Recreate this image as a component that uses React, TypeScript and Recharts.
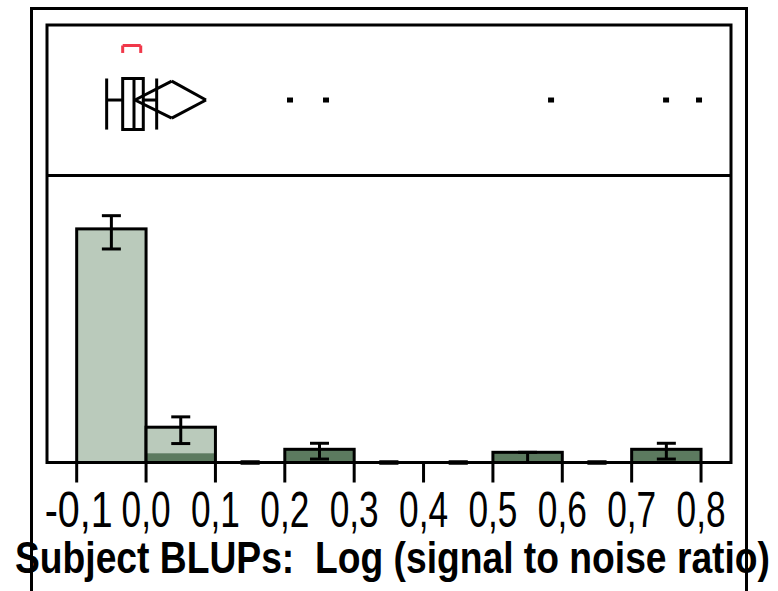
import {
  Bar,
  ComposedChart,
  ErrorBar,
  ReferenceArea,
  ReferenceLine,
  Scatter,
  XAxis,
  YAxis,
} from "recharts";

// histogram bins (width 0.1), heights in % of the lower panel
const binMids = [-0.05, 0.05, 0.15, 0.25, 0.35, 0.45, 0.55, 0.65, 0.75];
const binTotal = [81.4, 12.3, 0, 4.6, 0, 0, 3.55, 0, 4.6];
const binDark = [0, 3.2, 0, 4.6, 0, 0, 3.55, 0, 4.6];
const errLow = [7.0, 5.7, 0, 3.4, 0, 0, 3.55, 0, 3.4];
const errHigh = [4.6, 3.6, 0, 2.1, 0, 0, 0, 0, 2.1];

const tickValues = [-0.1, 0, 0.1, 0.2, 0.3, 0.4, 0.5, 0.6, 0.7, 0.8];
const tickLabels = ["-0,1", "0,0", "0,1", "0,2", "0,3", "0,4", "0,5", "0,6", "0,7", "0,8"];

// outlier box plot: low whisker, q1, median, q3, high whisker
const boxStats = [-0.0568, -0.0337, -0.0174, -0.004, 0.0153];
const meanDiamond = [-0.016, 0.037, 0.0864]; // lower CI, mean, upper CI
const shortestHalf = [-0.0337, -0.0077];
const outliers = [0.2075, 0.2594, 0.5838, 0.7496, 0.7971];

const title = "Subject BLUPs:  Log (signal to noise ratio)";

// layout
const X_MIN = -0.1428;
const X_MAX = 0.8432;
const Y_MAX = 152.44;
const PANEL_SPLIT = 100;
const BOX_MID = 126.3;
const BOX_TOP = 133.8;
const BOX_BOT = 116.0;
const DIA_TOP = 132.9;
const DIA_BOT = 120.0;
const BRACKET_TOP = 145.3;
const BRACKET_BOT = 142.7;

const LIGHT = "#bacabb";
const DARK = "#5c7a5f";
const RED = "#f0384a";
const FONT = "'Liberation Sans Narrow', 'Liberation Sans', Arial, sans-serif";

const rows = binMids.map((x, i) => ({
  x,
  total: binTotal[i],
  dark: binDark[i],
  err: [errLow[i], errHigh[i]],
}));

// empty bins still show their (zero length) error bar
const emptyBins = rows.filter((r) => r.total === 0);

const points = outliers.map((x) => ({ x, y: BOX_MID }));

function HistBar(props: any) {
  const { x, y, width, height, payload } = props;
  if (!height || height <= 0) return null;
  const dh = payload.total > 0 ? (height * payload.dark) / payload.total : 0;
  return (
    <g>
      <rect x={x} y={y} width={width} height={height} fill={LIGHT} />
      {dh > 0 && <rect x={x} y={y + height - dh} width={width} height={dh} fill={DARK} />}
      <rect x={x} y={y} width={width} height={height} fill="none" stroke="#000" strokeWidth={3} />
    </g>
  );
}

function Tick(props: any) {
  const { x, y, payload } = props;
  const i = tickValues.findIndex((v) => Math.abs(v - payload.value) < 1e-9);
  const label = tickLabels[i] ?? "";
  const wide = label.startsWith("-");
  return (
    <text
      x={x + (wide ? 2 : 0)}
      y={y + 42}
      textAnchor="middle"
      fontFamily={FONT}
      fontSize={50}
      fill="#000"
      textLength={wide ? 68 : 49}
      lengthAdjust="spacingAndGlyphs"
    >
      {label}
    </text>
  );
}

function Title() {
  return (
    <text
      x={392.5}
      y={573}
      textAnchor="middle"
      fontFamily={FONT}
      fontWeight="bold"
      fontSize={45}
      fill="#000"
      textLength={755}
      lengthAdjust="spacingAndGlyphs"
      style={{ whiteSpace: "pre" }}
    >
      {title}
    </text>
  );
}

const seg = (x1: number, y1: number, x2: number, y2: number, color = "#000") => (
  <ReferenceLine
    key={`${x1}-${y1}-${x2}-${y2}-${color}`}
    segment={[
      { x: x1, y: y1 },
      { x: x2, y: y2 },
    ]}
    stroke={color}
    strokeWidth={3}
    ifOverflow="visible"
  />
);

export default function App() {
  const [lw, q1, med, q3, hw] = boxStats;
  const [cLo, mean, cHi] = meanDiamond;
  const [sLo, sHi] = shortestHalf;
  return (
    <div style={{ position: "absolute", left: 0, top: 0, width: 778, height: 591 }}>
      <div
        style={{
          position: "absolute",
          left: 30,
          top: 7,
          width: 718,
          height: 584,
          boxSizing: "border-box",
          borderTop: "3px solid #000",
          borderLeft: "3px solid #000",
          borderRight: "3px solid #000",
        }}
      />
      <div style={{ position: "absolute", left: 0, top: 0 }}>
        <ComposedChart
          width={778}
          height={591}
          data={rows}
          margin={{ top: 25, right: 47, left: 47, bottom: 28.5 }}
          barCategoryGap={0}
          barGap={0}
          style={{ overflow: "visible" }}
        >
          <XAxis
            dataKey="x"
            type="number"
            domain={[X_MIN, X_MAX]}
            allowDataOverflow
            ticks={tickValues}
            interval={0}
            height={100}
            tickSize={20}
            axisLine={{ stroke: "#000", strokeWidth: 3 }}
            tickLine={{ stroke: "#000", strokeWidth: 3 }}
            tick={<Tick />}
            label={{ content: () => <Title /> }}
          />
          <XAxis xAxisId="pts" dataKey="x" type="number" domain={[X_MIN, X_MAX]} allowDataOverflow hide />
          <YAxis type="number" domain={[0, Y_MAX]} allowDataOverflow hide />
          <ReferenceArea
            x1={X_MIN}
            x2={X_MAX}
            y1={0}
            y2={Y_MAX}
            fill="none"
            fillOpacity={0}
            stroke="#000"
            strokeWidth={3}
            ifOverflow="visible"
          />
          <ReferenceLine y={PANEL_SPLIT} stroke="#000" strokeWidth={3} />
          <Bar dataKey="total" barSize={69.37} shape={<HistBar />} isAnimationActive={false}>
            <ErrorBar dataKey="err" width={9.5} stroke="#000" strokeWidth={3} />
          </Bar>
          <Scatter
            xAxisId="pts"
            data={emptyBins}
            dataKey="total"
            isAnimationActive={false}
            shape={() => <g />}
          >
            <ErrorBar dataKey="err" direction="y" width={9.5} stroke="#000" strokeWidth={4} />
          </Scatter>
          {/* box plot */}
          {seg(lw, BOX_TOP, lw, BOX_BOT)}
          {seg(lw, BOX_MID, q1, BOX_MID)}
          {seg(hw, BOX_TOP, hw, BOX_BOT)}
          {seg(q3, BOX_MID, hw, BOX_MID)}
          <ReferenceArea
            x1={q1}
            x2={q3}
            y1={BOX_BOT}
            y2={BOX_TOP}
            fill="#fff"
            fillOpacity={1}
            stroke="#000"
            strokeWidth={3}
            ifOverflow="visible"
          />
          {seg(med, BOX_TOP, med, BOX_BOT)}
          {seg(cLo, BOX_MID, mean, DIA_TOP)}
          {seg(mean, DIA_TOP, cHi, BOX_MID)}
          {seg(cHi, BOX_MID, mean, DIA_BOT)}
          {seg(mean, DIA_BOT, cLo, BOX_MID)}
          {seg(sLo, BRACKET_TOP, sHi, BRACKET_TOP, RED)}
          {seg(sLo, BRACKET_TOP, sLo, BRACKET_BOT, RED)}
          {seg(sHi, BRACKET_TOP, sHi, BRACKET_BOT, RED)}
          <Scatter
            xAxisId="pts"
            data={points}
            dataKey="y"
            isAnimationActive={false}
            shape={(p: any) => <rect x={p.cx - 3} y={p.cy - 2.5} width={6} height={5} fill="#000" />}
          />
        </ComposedChart>
      </div>
    </div>
  );
}
